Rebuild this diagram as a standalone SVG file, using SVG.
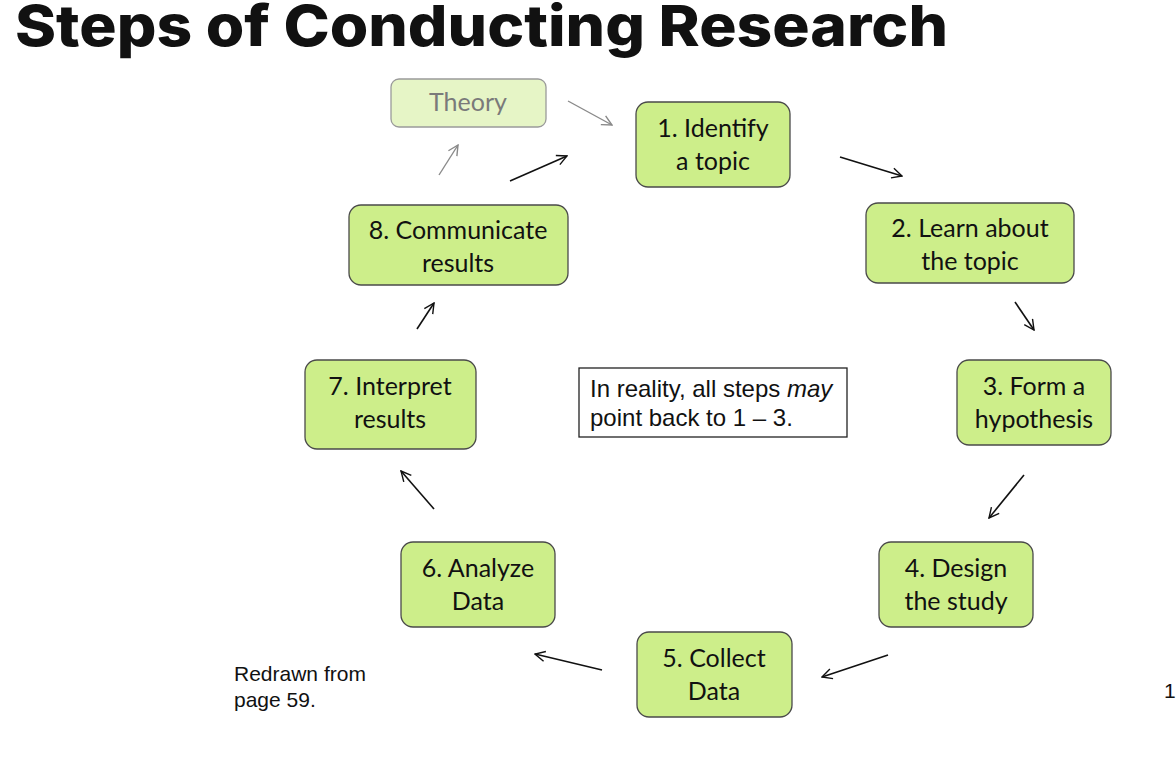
<svg xmlns="http://www.w3.org/2000/svg" width="1176" height="778" viewBox="0 0 1176 778">
  <defs>
    <marker id="head" viewBox="0 0 12 12" refX="11" refY="6" markerWidth="12" markerHeight="12" markerUnits="userSpaceOnUse" orient="auto">
      <path d="M1,1 L11,6 L1,11" fill="none" stroke="#111" stroke-width="1.4"/>
    </marker>
    <marker id="head-grey" viewBox="0 0 12 12" refX="11" refY="6" markerWidth="12" markerHeight="12" markerUnits="userSpaceOnUse" orient="auto">
      <path d="M1,1 L11,6 L1,11" fill="none" stroke="#888" stroke-width="1.4"/>
    </marker>
  </defs>
  <style>
    .step rect { fill: #cdee8a; stroke: #4a4a4a; stroke-width: 1.3; }
    .step text { font-family: "Lato", "Open Sans", sans-serif; font-size: 25px; fill: #111; text-anchor: middle; }
    .theory rect { fill: #e6f5c6; stroke: #9a9a9a; stroke-width: 1.3; }
    .theory text { font-family: "Lato", "Open Sans", sans-serif; font-size: 25px; fill: #7a7a7a; text-anchor: middle; }
    .link { stroke: #111; stroke-width: 1.6; fill: none; marker-end: url(#head); }
    .link-grey { stroke: #8a8a8a; stroke-width: 1.4; fill: none; marker-end: url(#head-grey); }
    .note { font-family: "Liberation Sans", Arial, sans-serif; font-size: 24px; fill: #111; }
    .small { font-family: "Liberation Sans", Arial, sans-serif; font-size: 21px; fill: #111; }
    .title { font-family: "Inter", "Noto Sans", sans-serif; font-weight: 800; font-size: 57px; fill: #111; }
  </style>

  <rect width="1176" height="778" fill="#fff"/>

  <text class="title" x="15" y="46" textLength="933" lengthAdjust="spacingAndGlyphs">Steps of Conducting Research</text>

  <g id="connectors">
    <line class="link-grey" x1="568" y1="101" x2="612" y2="125"/>
    <line class="link-grey" x1="439" y1="175" x2="458" y2="145"/>
    <line class="link" x1="510" y1="181" x2="567" y2="156"/>
    <line class="link" x1="840" y1="157" x2="902" y2="176"/>
    <line class="link" x1="1015" y1="302" x2="1034" y2="330"/>
    <line class="link" x1="1024" y1="475" x2="989" y2="518"/>
    <line class="link" x1="888" y1="655" x2="822" y2="677"/>
    <line class="link" x1="602" y1="670" x2="535" y2="654"/>
    <line class="link" x1="434" y1="509" x2="401" y2="471"/>
    <line class="link" x1="417" y1="329" x2="434" y2="303"/>
  </g>

  <g id="theory" class="theory">
    <rect x="391" y="79" width="155" height="48" rx="8"/>
    <text x="468" y="111">Theory</text>
  </g>

  <g id="step1" class="step">
    <rect x="636" y="102" width="154" height="85" rx="12"/>
    <text x="713" y="137">1. Identify</text>
    <text x="713" y="170">a topic</text>
  </g>

  <g id="step2" class="step">
    <rect x="866" y="203" width="208" height="80" rx="12"/>
    <text x="970" y="237">2. Learn about</text>
    <text x="970" y="270">the topic</text>
  </g>

  <g id="step3" class="step">
    <rect x="957" y="360" width="154" height="85" rx="12"/>
    <text x="1034" y="395">3. Form a</text>
    <text x="1034" y="428">hypothesis</text>
  </g>

  <g id="step4" class="step">
    <rect x="879" y="542" width="154" height="85" rx="12"/>
    <text x="956" y="577">4. Design</text>
    <text x="956" y="610">the study</text>
  </g>

  <g id="step5" class="step">
    <rect x="637" y="632" width="155" height="85" rx="12"/>
    <text x="714" y="667">5. Collect</text>
    <text x="714" y="700">Data</text>
  </g>

  <g id="step6" class="step">
    <rect x="401" y="542" width="154" height="85" rx="12"/>
    <text x="478" y="577">6. Analyze</text>
    <text x="478" y="610">Data</text>
  </g>

  <g id="step7" class="step">
    <rect x="305" y="360" width="171" height="89" rx="12"/>
    <text x="390" y="395">7. Interpret</text>
    <text x="390" y="428">results</text>
  </g>

  <g id="step8" class="step">
    <rect x="349" y="205" width="219" height="80" rx="12"/>
    <text x="458" y="239">8. Communicate</text>
    <text x="458" y="272">results</text>
  </g>

  <g id="note">
    <rect x="579" y="368" width="268" height="69" fill="#fff" stroke="#222" stroke-width="1.3"/>
    <text class="note" x="590" y="397">In reality, all steps <tspan font-style="italic">may</tspan></text>
    <text class="note" x="590" y="426">point back to 1 – 3.</text>
  </g>

  <text class="small" x="234" y="681">Redrawn from</text>
  <text class="small" x="234" y="707">page 59.</text>
  <text class="small" x="1164" y="698">1</text>
</svg>
